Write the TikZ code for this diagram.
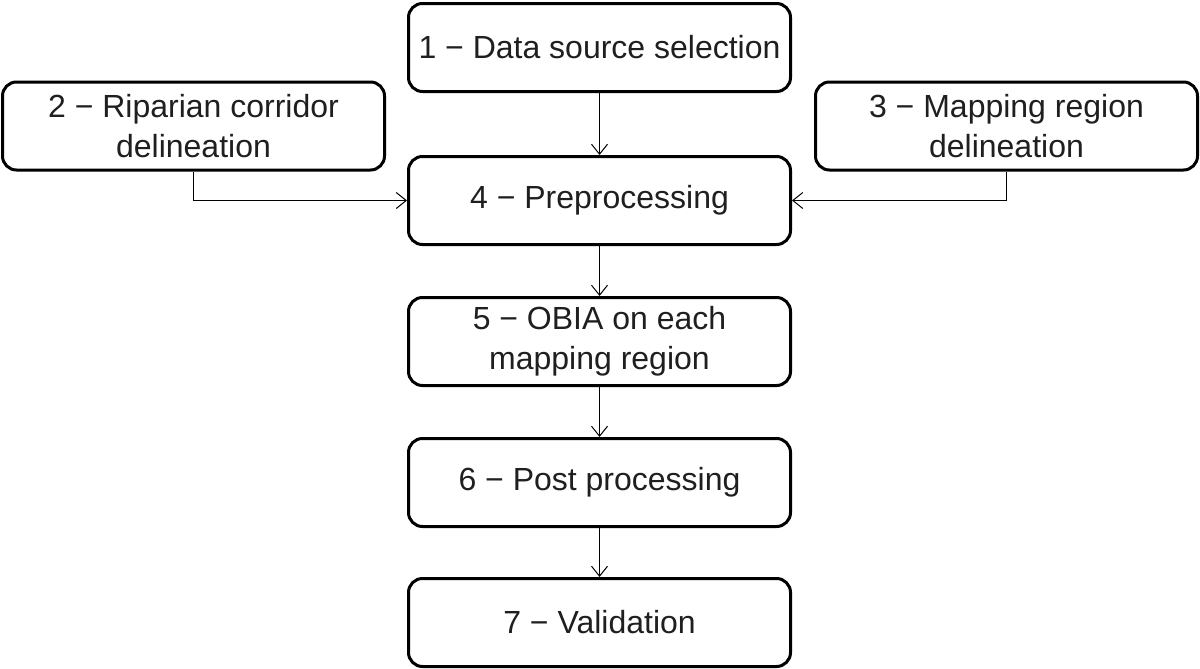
\documentclass[tikz,border=0pt]{standalone}
\usepackage{fontspec}
\setmainfont{Liberation Sans}
\usetikzlibrary{positioning,arrows.meta}
\begin{document}
\begin{tikzpicture}
	\tikzset{procbox/.style={draw,line width=1.5pt,rounded corners=7pt,minimum width=191pt,minimum height=44pt,align=center,inner sep=0pt,font=\fontsize{16}{20}\selectfont,text=black!88}}
	\tikzset{flowarrow/.style={line width=0.5pt,-{Straight Barb[length=5pt,width=8pt]}}}
	\useasboundingbox (0,0) rectangle (600pt,-334.5pt);
	\node[procbox] (source) at (299.75pt,-23.75pt) {1 − Data source selection};
	\node[procbox] (corridor) at (96.75pt,-63pt) {2 − Riparian corridor\\delineation};
	\node[procbox] (region) at (503.25pt,-63pt) {3 − Mapping region\\delineation};
	\node[procbox,below=31pt of source] (preproc) {4 − Preprocessing};
	\node[procbox,below=25pt of preproc] (obia) {5 − OBIA on each\\mapping region};
	\node[procbox,below=25pt of obia] (postproc) {6 − Post processing};
	\node[procbox,below=24.5pt of postproc] (valid) {7 − Validation};
	\draw[flowarrow] (source) -- (preproc);
	\draw[flowarrow] (corridor) |- (preproc);
	\draw[flowarrow] (region) |- (preproc);
	\draw[flowarrow] (preproc) -- (obia);
	\draw[flowarrow] (obia) -- (postproc);
	\draw[flowarrow] (postproc) -- (valid);
\end{tikzpicture}
\end{document}
